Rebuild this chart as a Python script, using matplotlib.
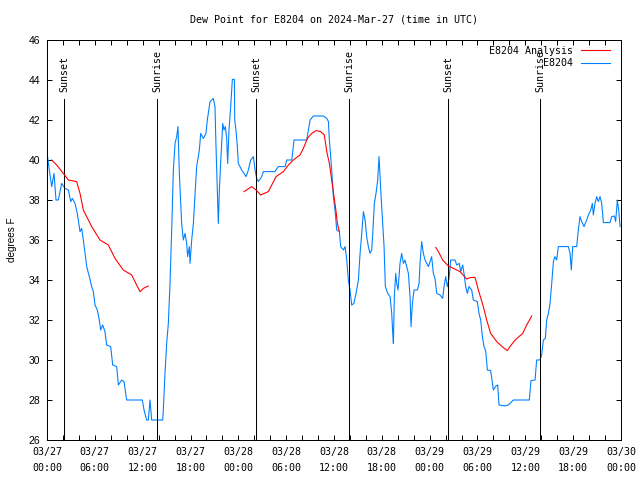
import numpy as np
import matplotlib
matplotlib.use("Agg")
import matplotlib.pyplot as plt
from matplotlib.ticker import MultipleLocator

# hours since 2024-03-27 00:00 UTC
obs_hours = [0.04, 0.29, 0.59, 0.88, 1.13, 1.42, 1.84, 2.26, 2.68, 2.97, 3.18, 3.51, 3.8, 4.14, 4.35,
             4.56, 4.77, 4.98, 5.31, 5.6, 5.81, 6.02, 6.31, 6.56, 6.73, 6.98, 7.27, 7.48, 7.99, 8.24,
             8.74, 8.95, 9.37, 9.66, 9.99, 11.67, 11.96, 12.17, 12.5, 12.71, 12.92, 13.13, 14.51, 14.59,
             14.8, 15.01, 15.22, 15.43, 15.64, 15.85, 16.06, 16.27, 16.43, 16.6, 16.89, 17.1, 17.31,
             17.52, 17.64, 17.85, 17.94, 18.15, 18.36, 18.57, 18.77, 19.11, 19.28, 19.61, 19.94, 20.11,
             20.45, 20.86, 21.07, 21.2, 21.37, 21.49, 21.62, 21.78, 22.04, 22.2, 22.37, 22.54, 22.66,
             22.83, 23.04, 23.25, 23.5, 23.55, 23.7, 23.85, 24.0, 24.42, 24.97, 25.26, 25.55, 25.89,
             26.1, 26.3, 26.51, 26.93, 27.14, 28.6, 29.0, 29.86, 30.07, 30.7, 30.99, 32.58, 33.0, 33.41,
             34.67, 35.09, 35.3, 35.42, 35.71, 35.92, 36.13, 36.34, 36.67, 36.84, 37.18, 37.39, 37.6,
             37.8, 38.01, 38.22, 38.5, 38.76, 39.06, 39.27, 39.48, 39.69, 39.9, 40.1, 40.31, 40.52,
             40.73, 40.86, 41.06, 41.27, 41.48, 41.65, 41.86, 42.11, 42.28, 42.44, 42.74, 43.03, 43.24,
             43.37, 43.45, 43.57, 43.74, 43.87, 44.03, 44.28, 44.49, 44.7, 44.91, 45.12, 45.33, 45.54,
             45.66, 45.83, 46.04, 46.46, 46.67, 46.79, 47.0, 47.21, 47.42, 47.63, 47.84, 48.05, 48.25,
             48.46, 48.67, 48.88, 49.3, 49.63, 49.8, 50.01, 50.22, 50.43, 50.64, 51.18, 51.39, 51.72,
             51.89, 52.14, 52.31, 52.52, 52.73, 52.94, 53.27, 53.48, 53.98, 54.19, 54.4, 54.61, 54.82,
             55.03, 55.24, 55.65, 55.82, 55.99, 56.32, 56.53, 56.7, 57.45, 57.87, 58.29, 58.5, 60.5,
             60.71, 61.22, 61.42, 61.84, 62.05, 62.26, 62.51, 62.68, 62.89, 63.1, 63.31, 63.52, 63.72,
             63.93, 64.14, 65.4, 65.61, 65.77, 65.94, 66.44, 66.65, 66.86, 67.07, 67.36, 67.7, 67.91,
             68.2, 68.41, 68.53, 68.74, 68.95, 69.16, 69.37, 69.58, 69.79, 70.62, 70.83, 71.17, 71.33,
             71.54, 71.71, 71.88]
obs_dewpt = [40.25, 39.5, 38.67, 39.33, 38.0, 38.0, 38.83, 38.58, 38.5, 37.92, 38.08, 37.83, 37.33, 36.42, 36.58,
             36.0, 35.33, 34.67, 34.17, 33.67, 33.42, 32.75, 32.5, 32.0, 31.5, 31.75, 31.42, 30.75, 30.67, 29.75,
             29.67, 28.75, 29.0, 28.92, 28.0, 28.0, 28.0, 27.5, 27.0, 27.0, 28.0, 27.0, 27.0, 27.5,
             29.33, 30.83, 31.83, 33.83, 36.5, 39.5, 40.83, 41.17, 41.67, 39.33, 36.83, 36.0, 36.33,
             35.83, 35.17, 35.67, 34.83, 36.0, 36.83, 38.33, 39.67, 40.5, 41.33, 41.08, 41.33, 42.0,
             42.92, 43.08, 42.67, 40.67, 38.5, 36.83, 38.5, 39.83, 41.83, 41.5, 41.67, 41.08, 39.83,
             41.5, 42.67, 44.03, 44.03, 42.0, 41.5, 40.83, 39.83, 39.5, 39.17, 39.5, 40.0, 40.17,
             39.5, 39.08, 38.92, 39.17, 39.42, 39.42, 39.67, 39.67, 40.0, 40.0, 41.0, 41.0, 42.0, 42.2,
             42.2, 42.08, 41.92, 41.0, 39.5, 38.17, 37.5, 36.5, 36.42, 35.67, 35.5, 35.67, 35.0,
             34.0, 33.5, 32.75, 32.83, 33.33, 34.0, 35.33, 36.33, 37.42, 37.0, 36.17, 35.67, 35.33,
             35.5, 36.33, 37.83, 38.33, 39.0, 40.17, 38.5, 36.83, 35.67, 33.67, 33.33, 33.17, 32.33,
             31.33, 30.83, 33.17, 34.33, 33.83, 33.5, 34.83, 35.33, 34.83, 35.0, 34.67, 34.33, 33.17,
             31.67, 32.83, 33.5, 33.5, 33.83, 34.83, 35.92, 35.33, 35.0, 34.83, 34.67, 34.92, 35.17,
             34.33, 34.08, 33.33, 33.25, 33.08, 33.67, 34.17, 33.67, 34.08, 35.0, 35.0, 34.75, 34.83,
             34.42, 34.75, 34.33, 33.67, 33.33, 33.67, 33.5, 33.0, 32.92, 32.33, 32.0, 31.17, 30.67,
             30.45, 29.5, 29.47, 29.0, 28.5, 28.7, 28.75, 27.75, 27.7, 27.75, 27.92, 28.0, 28.0,
             28.97, 29.0, 30.0, 30.0, 30.25, 31.0, 31.08, 32.0, 32.33, 32.83, 33.83, 34.92, 35.17,
             35.0, 35.67, 35.67, 35.33, 34.5, 35.67, 35.67, 36.5, 37.17, 36.92, 36.67, 37.0, 37.25,
             37.5, 37.83, 37.25, 37.83, 38.17, 37.92, 38.17, 37.83, 36.87, 36.87, 37.17, 37.2, 36.92,
             38.0, 37.5, 36.67]

# analysis runs (three separate pieces)
ana1_hours = [0.59, 1.21, 2.05, 2.68, 3.72, 4.14, 4.56, 5.6, 6.65, 7.69, 8.53, 9.57, 10.62, 11.25, 11.67, 12.08, 12.71]
ana1_dewpt = [40.0, 39.75, 39.33, 39.0, 38.92, 38.33, 37.5, 36.67, 36.0, 35.75, 35.08, 34.5, 34.25, 33.75, 33.42, 33.58, 33.7]
ana2_hours = [24.72, 25.68, 26.3, 26.8, 27.77, 28.19, 28.73, 29.65, 30.28, 30.9, 31.74, 32.16, 32.66, 33.2,
              33.75, 34.33, 34.79, 35.09, 35.42, 35.71, 36.0, 36.26, 36.42, 36.67]
ana2_dewpt = [38.42, 38.67, 38.47, 38.25, 38.42, 38.75, 39.17, 39.42, 39.75, 40.0, 40.25, 40.58, 41.08, 41.33,
              41.47, 41.42, 41.25, 40.42, 39.83, 39.0, 38.17, 37.42, 36.83, 36.42]
ana3_hours = [48.76, 49.09, 49.63, 50.34, 50.97, 51.81, 52.64, 53.06, 53.69, 54.11, 54.73, 55.15, 55.65,
              56.41, 57.24, 57.75, 58.08, 58.71, 59.67, 60.17, 60.8]
ana3_dewpt = [35.63, 35.42, 35.0, 34.7, 34.58, 34.42, 34.05, 34.12, 34.13, 33.5, 32.67, 32.0, 31.33,
              30.92, 30.62, 30.47, 30.67, 31.0, 31.33, 31.75, 32.2]

sunset_hours = [2.17, 26.22, 50.33]
sunrise_hours = [13.86, 37.9, 61.88]

tick_hours = [0, 6, 12, 18, 24, 30, 36, 42, 48, 54, 60, 66, 72]
tick_labels = ["03/27\n00:00", "03/27\n06:00", "03/27\n12:00", "03/27\n18:00",
               "03/28\n00:00", "03/28\n06:00", "03/28\n12:00", "03/28\n18:00",
               "03/29\n00:00", "03/29\n06:00", "03/29\n12:00", "03/29\n18:00",
               "03/30\n00:00"]

mono = "DejaVu Sans Mono"
px = 0.72  # one pixel in points at 100 dpi

fig = plt.figure(figsize=(6.4, 4.8), dpi=100)
ax = fig.add_axes([47 / 640, 40 / 480, 574 / 640, 400 / 480])

lb, = ax.plot(obs_hours, obs_dewpt, color="#0080ff", lw=1.1 * px, label="E8204", zorder=2)
lr, = ax.plot(ana1_hours, ana1_dewpt, color="red", lw=1.1 * px, label="E8204 Analysis", zorder=3)
ax.plot(ana2_hours, ana2_dewpt, color="red", lw=1.1 * px, zorder=3)
ax.plot(ana3_hours, ana3_dewpt, color="red", lw=1.1 * px, zorder=3)

for h in sunset_hours:
    ax.plot([h, h], [0, 0.8525], color="black", lw=px, transform=ax.get_xaxis_transform())
    ax.text(h, 0.87, "Sunset", rotation=90, ha="center", va="bottom", family=mono, fontsize=7.2,
            transform=ax.get_xaxis_transform())
for h in sunrise_hours:
    ax.plot([h, h], [0, 0.8525], color="black", lw=px, transform=ax.get_xaxis_transform())
    ax.text(h, 0.87, "Sunrise", rotation=90, ha="center", va="bottom", family=mono, fontsize=7.2,
            transform=ax.get_xaxis_transform())

ax.set_xlim(0, 72)
ax.set_ylim(26, 46)
ax.set_xticks(tick_hours)
ax.set_xticklabels(tick_labels, family=mono, fontsize=7.2, linespacing=1.7)
ax.xaxis.set_minor_locator(MultipleLocator(2))
ax.yaxis.set_major_locator(MultipleLocator(2))
for lab in ax.get_yticklabels():
    lab.set_family("Liberation Sans")
    lab.set_fontsize(7.5)
ax.tick_params(which="both", direction="in", top=True, right=True, length=3.6, width=px)
ax.tick_params(axis="x", pad=5)
ax.tick_params(axis="y", pad=5)
for s in ax.spines.values():
    s.set_linewidth(px)

ax.set_title("Dew Point for E8204 on 2024-Mar-27 (time in UTC)", family=mono, fontsize=7.2, pad=12.8)
ax.set_ylabel("degrees F", family="Liberation Sans", fontsize=7.2, labelpad=8)

ax.legend(handles=[lr, lb], loc="upper right", bbox_to_anchor=(0.991, 1.0), frameon=False,
          markerfirst=False, prop={"family": mono, "size": 7.2}, handlelength=2.9,
          handletextpad=0.8, labelspacing=0.25, borderaxespad=0.4, borderpad=0.2)

fig.savefig("out.png", dpi=100)
